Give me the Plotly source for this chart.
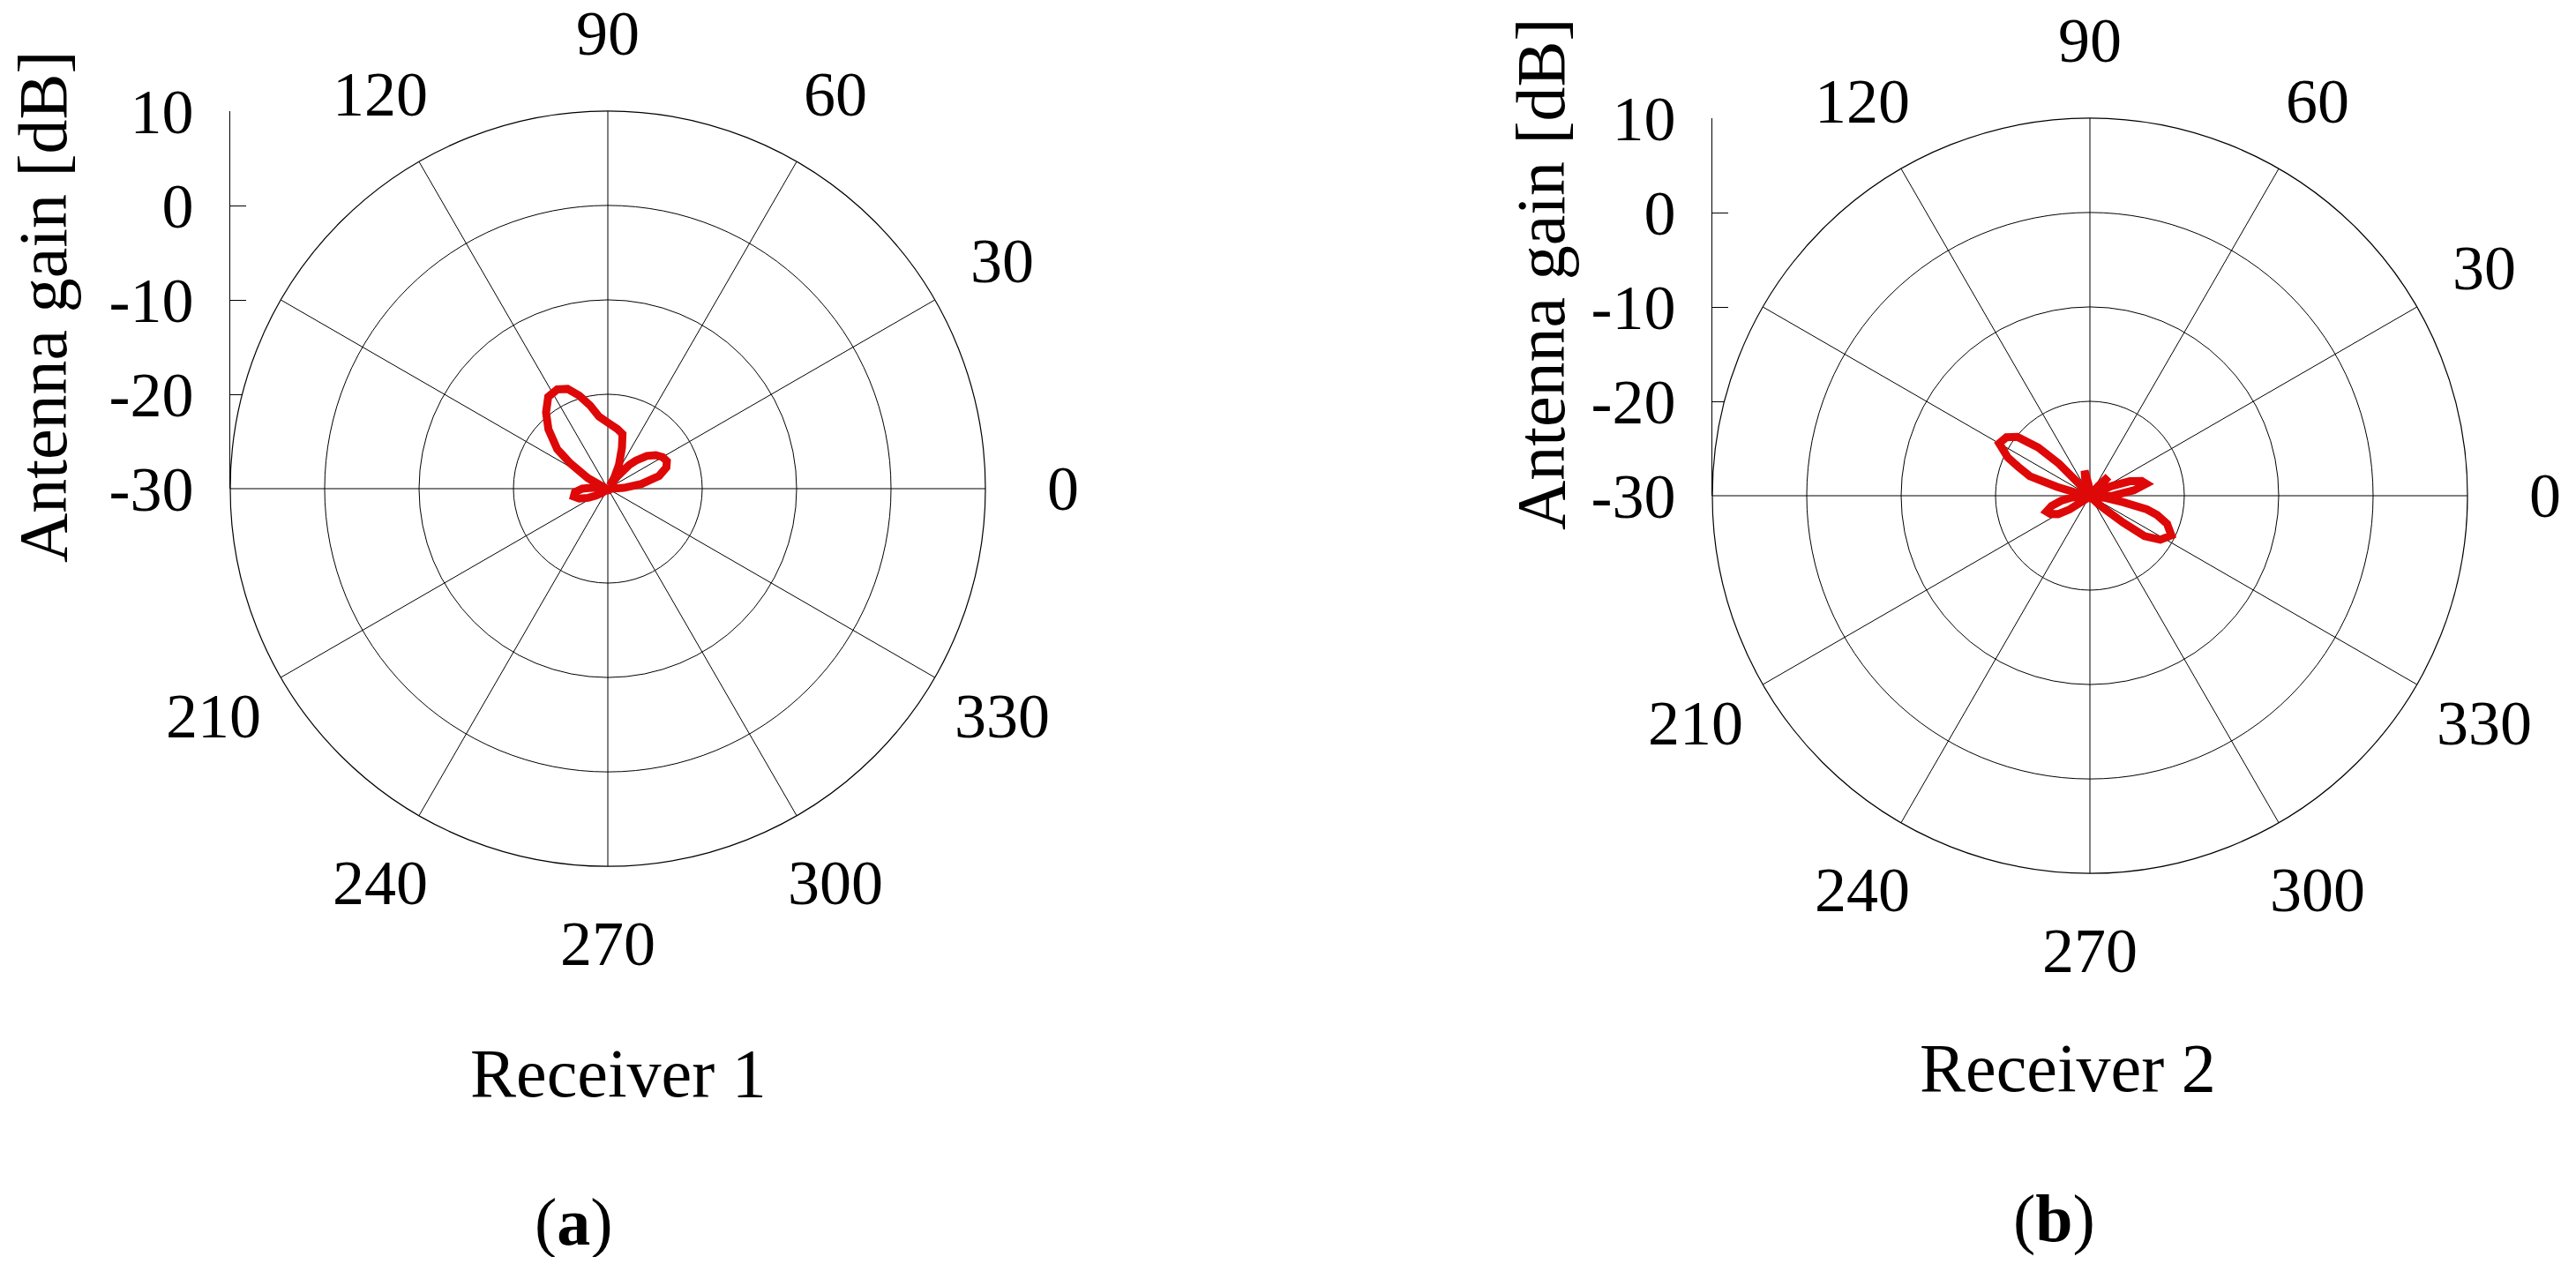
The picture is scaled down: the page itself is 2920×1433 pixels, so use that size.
import math
import plotly.graph_objects as go

# ---------------- data ----------------
angle_ticks = [0, 30, 60, 90, 120, 150, 180, 210, 240, 270, 300, 330]
angle_labels = ["0", "30", "60", "90", "120", "", "", "210", "240", "270", "300", "330"]
gain_ticks = [-30, -20, -10, 0, 10]
gain_labels = ["-30", "-20", "-10", "0", "10"]
gain_range = [-30, 10]

rx1_angle = [0, 3, 8, 14, 20, 25, 30, 35, 40, 45, 48, 52, 56, 60, 65, 71, 75, 81, 90,
             97, 102, 107, 112, 117, 123, 129, 135, 142, 146, 152, 156, 165, 173, 178,
             180, 186, 193, 199, 205, 210, 216, 225, 260, 300, 340, 355, 360]
rx1_gain = [-29.6, -28.3, -26.4, -24.4, -23.4, -23.1, -23.3, -23.8, -24.6, -25.8, -26.6,
            -28.3, -29.6, -28.6, -27.2, -25.4, -24.0, -23.6, -23.0, -22.3, -21.0, -19.7,
            -18.6, -18.2, -18.4, -19.6, -21.1, -23.2, -25.2, -27.6, -29.2, -29.7, -29.0,
            -28.0, -27.3, -26.5, -26.3, -26.8, -27.7, -28.5, -29.2, -29.8, -29.8, -29.8,
            -29.8, -29.8, -29.6]

rx2_angle = [0, 3, 7, 12, 16, 20, 24, 28, 38, 43, 46, 49, 54, 90, 97, 102, 106, 111, 125,
             132, 134, 137, 141, 145, 150, 155, 158, 162, 165, 168, 172, 182, 186, 190,
             195, 200, 205, 210, 214, 218, 225, 310, 315, 318, 321, 323.5, 328, 334, 340,
             344, 346.5, 349, 352, 356, 360]
rx2_gain = [-27.6, -27.0, -25.3, -23.9, -24.3, -25.5, -27.5, -29.5, -29.6, -28.5, -27.2,
            -28.6, -29.6, -29.7, -28.8, -27.3, -28.2, -29.5, -29.7, -28.5, -25.3, -22.5,
            -20.1, -19.2, -18.9, -20.4, -21.8, -23.3, -26.4, -28.6, -29.5, -29.3, -28.0,
            -26.9, -25.8, -25.1, -25.4, -26.1, -27.4, -29.2, -29.7, -29.6, -28.8, -27.8,
            -25.5, -22.8, -21.2, -20.4, -21.3, -22.6, -23.8, -26.4, -28.5, -29.3, -27.6]

panel_titles = ["Receiver 1", "Receiver 2"]
panel_tags = ["(<b>a</b>)", "(<b>b</b>)"]
y_title = "Antenna gain [dB]"

# ---------------- layout geometry (target-screen pixels) ----------------
BODY = 8                      # default page margin around the plot div
W, H = 2920 - 2 * BODY, 1433 - 2 * BODY
R = 428                       # outer ring radius
LABEL_R = 516                 # radius of angle-label centres
centers = [(689, 554), (2369, 562)]

FONT = "Liberation Serif"
RED = "rgb(222,8,8)"


def fx(px):
    return (px - BODY) / W


def fy(py):
    return 1 - (py - BODY) / H


fig = go.Figure()

for i, (ang, gain) in enumerate([(rx1_angle, rx1_gain), (rx2_angle, rx2_gain)]):
    sp = "polar" if i == 0 else "polar2"
    fig.add_trace(go.Scatterpolar(r=gain, theta=ang, mode="lines",
                                  line=dict(color=RED, width=9), subplot=sp,
                                  showlegend=False))

# invisible traces so the gain scale axes are drawn
fig.add_trace(go.Scatter(x=[0.5] * len(gain_ticks), y=gain_ticks, mode="markers",
                         marker=dict(opacity=0), hoverinfo="skip", showlegend=False,
                         xaxis="x", yaxis="y"))
fig.add_trace(go.Scatter(x=[0.5] * len(gain_ticks), y=gain_ticks, mode="markers",
                         marker=dict(opacity=0), hoverinfo="skip", showlegend=False,
                         xaxis="x2", yaxis="y2"))

layout = dict(
    template="none",
    width=W, height=H,
    margin=dict(l=0, r=0, t=0, b=0, pad=0, autoexpand=False),
    paper_bgcolor="white",
    plot_bgcolor="rgba(0,0,0,0)",
    font=dict(family=FONT, color="black"),
    showlegend=False,
)

annotations = []
for i, (cx, cy) in enumerate(centers):
    pname = "polar" if i == 0 else "polar2"
    layout[pname] = dict(
        domain=dict(x=[fx(cx - R), fx(cx + R)], y=[fy(cy + R), fy(cy - R)]),
        bgcolor="white",
        angularaxis=dict(
            rotation=0, direction="counterclockwise",
            tickmode="array", tickvals=angle_ticks, showticklabels=False, ticks="",
            showline=True, linecolor="black", linewidth=1.2,
            showgrid=True, gridcolor="black", gridwidth=1,
        ),
        radialaxis=dict(
            range=gain_range, tickmode="array", tickvals=gain_ticks[1:],
            showticklabels=False, ticks="", showline=False,
            showgrid=True, gridcolor="black", gridwidth=1,
        ),
    )
    xname = "xaxis" if i == 0 else "xaxis2"
    yname = "yaxis" if i == 0 else "yaxis2"
    layout[xname] = dict(domain=[fx(cx - R), fx(cx + R)], range=[0, 1], visible=False,
                         automargin=False, anchor="y" if i == 0 else "y2")
    layout[yname] = dict(
        domain=[fy(cy), fy(cy - R)], range=gain_range, automargin=False,
        anchor="x" if i == 0 else "x2", side="left",
        tickmode="array", tickvals=gain_ticks, ticktext=gain_labels,
        ticks="inside", ticklen=18, tickcolor="black", tickwidth=1,
        showline=True, linecolor="black", linewidth=1,
        showgrid=False, zeroline=False,
        tickfont=dict(family=FONT, size=72, color="black"),
        ticklabelstandoff=26,
    )

    # angle labels centred on a ring just outside the outer circle
    for a, lab in zip(angle_ticks, angle_labels):
        if not lab:
            continue
        rad = math.radians(a)
        annotations.append(dict(
            text=lab, x=fx(cx + LABEL_R * math.cos(rad)), y=fy(cy - LABEL_R * math.sin(rad)),
            xref="paper", yref="paper", showarrow=False,
            xanchor="center", yanchor="middle",
            font=dict(family=FONT, size=72, color="black")))

title_pos = [(48, 348), (1746, 311)]
for (tx, ty) in title_pos:
    annotations.append(dict(text=y_title, x=fx(tx), y=fy(ty), xref="paper", yref="paper",
                            showarrow=False, textangle=-90, xanchor="center",
                            yanchor="middle", font=dict(family=FONT, size=78, color="black")))

rec_pos = [(701, 1216), (2344, 1210)]
for t, (tx, ty) in zip(panel_titles, rec_pos):
    annotations.append(dict(text=t, x=fx(tx), y=fy(ty), xref="paper", yref="paper",
                            showarrow=False, xanchor="center", yanchor="middle",
                            font=dict(family=FONT, size=78, color="black")))

tag_pos = [(650, 1385), (2328, 1381)]
for t, (tx, ty) in zip(panel_tags, tag_pos):
    annotations.append(dict(text=t, x=fx(tx), y=fy(ty), xref="paper", yref="paper",
                            showarrow=False, xanchor="center", yanchor="middle",
                            font=dict(family=FONT, size=76, color="black")))

layout["annotations"] = annotations
fig.update_layout(**layout)
fig.write_html("out.html")
